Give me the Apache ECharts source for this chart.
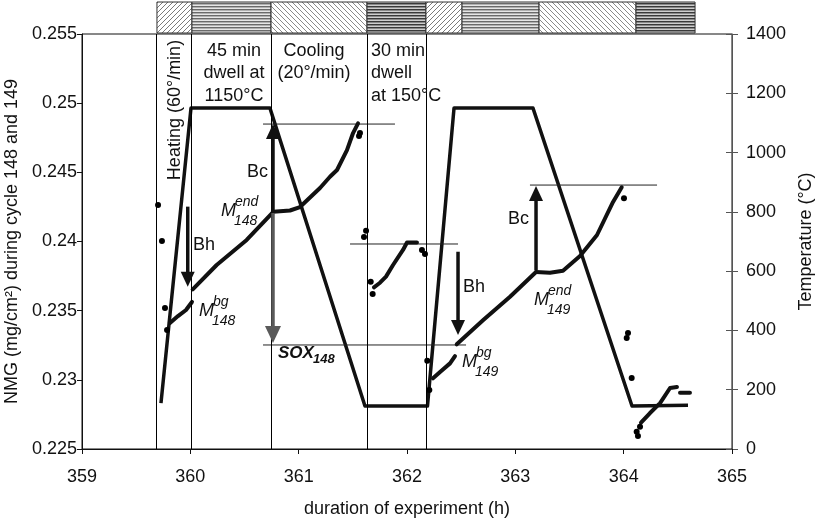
<!DOCTYPE html>
<html><head><meta charset="utf-8">
<script src="https://cdn.jsdelivr.net/npm/echarts@6/dist/echarts.min.js"></script>
<style>html,body{margin:0;padding:0;background:#fff}#c{width:817px;height:525px}</style>
</head><body><div id="c"></div>
<script>
// ---------- data (hours, NMG mg/cm², °C) ----------
const xMin = 359, xMax = 365, xStep = 1;
const nmgMin = 0.225, nmgMax = 0.255, nmgStep = 0.005;
const tMin = 0, tMax = 1400, tStep = 200;

// phase boundaries (h) and kinds for the top band
const phaseBounds = [359.692, 360.015, 360.745, 361.631, 362.175, 362.508, 363.219, 364.114, 364.659];
const phaseKinds = ['heat', 'dwellHot', 'cool', 'dwellCold', 'heat', 'dwellHot', 'cool', 'dwellCold'];
const phaseLines = [359.692, 360.015, 360.745, 361.631, 362.175];

// furnace temperature profile
const temperature = [
  [359.729, 155], [360.006, 1150], [360.735, 1150], [361.612, 145],
  [362.189, 145], [362.434, 1150], [363.163, 1150], [364.077, 145], [364.594, 148]
];

// dense mass-gain traces
const mass148Heat = [[359.812, 0.23411], [359.886, 0.23461], [359.960, 0.23505], [360.015, 0.23563]];
const mass148Dwell = [[360.022, 0.23654], [360.243, 0.23830], [360.520, 0.24011], [360.766, 0.24215]];
const mass148Cool = [[360.766, 0.24215], [360.920, 0.24224], [361.012, 0.24249], [361.197, 0.24387],
  [361.289, 0.24468], [361.354, 0.24517], [361.446, 0.24661], [361.502, 0.24784], [361.548, 0.24854]];
const mass148Hold = [[361.695, 0.23669], [361.751, 0.23702], [361.806, 0.23746], [361.871, 0.23830],
  [361.963, 0.23939], [362.000, 0.23993], [362.092, 0.23993]];
const mass149Heat = [[362.240, 0.23011], [362.305, 0.23057], [362.397, 0.23119], [362.443, 0.23172]];
const mass149Dwell = [[362.459, 0.23257], [362.704, 0.23432], [362.951, 0.23601], [363.191, 0.23779]];
const mass149Cool = [[363.191, 0.23779], [363.320, 0.23774], [363.440, 0.23789], [363.597, 0.23895],
  [363.754, 0.24047], [363.902, 0.24286], [363.982, 0.24392]];
const mass149Hold = [[364.160, 0.22690], [364.243, 0.22760], [364.336, 0.22832], [364.428, 0.22941], [364.492, 0.22948]];
const mass149Tail = [[364.520, 0.22907], [364.612, 0.22907]];

// isolated mass readings
const massDots = [
  [359.702, 0.24264], [359.738, 0.24004], [359.766, 0.23519], [359.785, 0.23360],
  [361.566, 0.24784], [361.557, 0.24763], [361.622, 0.24078], [361.603, 0.24033],
  [361.665, 0.23709], [361.683, 0.23620], [362.138, 0.23939], [362.166, 0.23910],
  [362.187, 0.23138], [362.206, 0.22926], [364.003, 0.24312], [364.040, 0.23339],
  [364.028, 0.23302], [364.074, 0.23013], [364.120, 0.22625], [364.132, 0.22594], [364.151, 0.22661]
];

// horizontal reference levels: [hStart, hEnd, nmg]
const refLevels = [
  [360.671, 361.889, 0.24849],
  [361.474, 362.471, 0.23982],
  [360.671, 362.545, 0.23252],
  [363.135, 364.308, 0.24408]
];

// arrows: [h, nmgFrom, nmgTo, kind]
const arrows = [
  [359.976, 0.24252, 0.23673, 0],
  [360.763, 0.24206, 0.24849, 0],
  [360.763, 0.24206, 0.23266, 1],
  [362.471, 0.23926, 0.23324, 0],
  [363.191, 0.23794, 0.24401, 0]
];

// ---------- styles ----------
const FONT = '"Liberation Sans", Arial, Helvetica, sans-serif';
const FS = 18;

function makePattern(kind) {
  const c = document.createElement('canvas');
  const ctx = c.getContext('2d');
  if (kind === 'heat' || kind === 'cool') {
    const s = 5; c.width = s; c.height = s;
    ctx.fillStyle = '#fff'; ctx.fillRect(0, 0, s, s);
    ctx.strokeStyle = kind === 'heat' ? '#7a7a7a' : '#8a8a8a';
    ctx.lineWidth = 1;
    ctx.beginPath();
    if (kind === 'heat') {
      ctx.moveTo(-1, s + 1); ctx.lineTo(s + 1, -1);
      ctx.moveTo(-2, 2); ctx.lineTo(2, -2);
      ctx.moveTo(s - 2, s + 2); ctx.lineTo(s + 2, s - 2);
    } else {
      ctx.moveTo(-1, -1); ctx.lineTo(s + 1, s + 1);
      ctx.moveTo(-2, s - 2); ctx.lineTo(2, s + 2);
      ctx.moveTo(s - 2, -2); ctx.lineTo(s + 2, 2);
    }
    ctx.stroke();
  } else {
    c.width = 4; c.height = 3;
    ctx.fillStyle = kind === 'dwellHot' ? '#e6e6e6' : '#cfcfcf'; ctx.fillRect(0, 0, 4, 3);
    ctx.fillStyle = kind === 'dwellHot' ? '#6a6a6a' : '#3a3a3a'; ctx.fillRect(0, 0, 4, 1);
    ctx.fillStyle = kind === 'dwellHot' ? '#b0b0b0' : '#8a8a8a'; ctx.fillRect(0, 1, 4, 1);
  }
  return { image: c, repeat: 'repeat' };
}
const patterns = {};
['heat', 'cool', 'dwellHot', 'dwellCold'].forEach(k => patterns[k] = makePattern(k));

const chart = echarts.init(document.getElementById('c'), null, { renderer: 'canvas' });

function traceSeries(data) {
  return {
    type: 'line', data: data, xAxisIndex: 0, yAxisIndex: 0, showSymbol: false, symbol: 'none',
    lineStyle: { color: '#111', width: 4, cap: 'round', join: 'round' }, silent: true, z: 4, animation: false
  };
}

const series = [];
// temperature
series.push({
  type: 'line', data: temperature, xAxisIndex: 0, yAxisIndex: 1, symbol: 'none',
  lineStyle: { color: '#111', width: 3.5, join: 'round' }, silent: true, z: 3, animation: false,
  markLine: {
    silent: true, symbol: 'none', animation: false, label: { show: false },
    lineStyle: { color: '#000', width: 1, type: 'solid' },
    data: phaseLines.map(v => ({ xAxis: v }))
  }
});
[mass148Heat, mass148Dwell, mass148Cool, mass148Hold, mass149Heat, mass149Dwell, mass149Cool, mass149Hold, mass149Tail]
  .forEach(d => series.push(traceSeries(d)));
series.push({
  type: 'scatter', data: massDots, xAxisIndex: 0, yAxisIndex: 0, symbol: 'circle', symbolSize: 6,
  itemStyle: { color: '#000', opacity: 1 }, silent: true, z: 4, animation: false
});
refLevels.forEach(r => series.push({
  type: 'line', data: [[r[0], r[2]], [r[1], r[2]]], xAxisIndex: 0, yAxisIndex: 0, symbol: 'none',
  lineStyle: { color: '#222', width: 1 }, silent: true, z: 3, animation: false
}));
// arrows
series.push({
  type: 'custom', xAxisIndex: 0, yAxisIndex: 0, clip: false, silent: true, z: 6, animation: false,
  data: arrows, encode: { x: 0, y: [1, 2] },
  renderItem(params, api) {
    const p0 = api.coord([api.value(0), api.value(1)]);
    const p1 = api.coord([api.value(0), api.value(2)]);
    const grey = api.value(3) === 1;
    const col = grey ? '#5a5a5a' : '#111';
    const hw = grey ? 16 : 14, hh = grey ? 17 : 15;
    const dir = p1[1] > p0[1] ? 1 : -1;
    const base = p1[1] - dir * hh;
    return {
      type: 'group', children: [
        { type: 'line', shape: { x1: p0[0], y1: p0[1], x2: p1[0], y2: base + dir * 1 }, style: { stroke: col, lineWidth: 3.5 } },
        { type: 'polygon', shape: { points: [[p1[0], p1[1]], [p1[0] - hw / 2, base], [p1[0] + hw / 2, base]] }, style: { fill: col } }
      ]
    };
  }
});
// top phase band
series.push({
  type: 'custom', xAxisIndex: 0, yAxisIndex: 0, clip: false, silent: true, z: 2, animation: false,
  data: phaseKinds.map((k, i) => [phaseBounds[i], phaseBounds[i + 1], i, 0.24]),
  encode: { x: [0, 1], y: 3 },
  renderItem(params, api) {
    const x1 = api.coord([api.value(0), nmgMax])[0];
    const x2 = api.coord([api.value(1), nmgMax])[0];
    const top = params.coordSys.y;
    return {
      type: 'rect', shape: { x: x1, y: top - 32, width: x2 - x1, height: 31 },
      style: { fill: patterns[phaseKinds[api.value(2)]], stroke: '#333', lineWidth: 1 }
    };
  }
});

// ---------- annotations ----------
function txt(x, y, text, o) {
  o = o || {};
  return {
    type: 'text', x: x, y: y, rotation: o.rot || 0, silent: true, z: 10,
    style: {
      text: text, fill: '#111', fontFamily: FONT, fontSize: o.fs || FS,
      fontStyle: o.it ? 'italic' : 'normal', fontWeight: o.bold ? 'bold' : 'normal',
      align: o.align || 'left', verticalAlign: 'middle'
    }
  };
}
function mLabel(x, y, sup, sub) {
  return [
    txt(x, y, 'M', { it: true }),
    txt(x + 14, y - 9, sup, { it: true, fs: 14 }),
    txt(x + 13, y + 10, sub, { it: true, fs: 14 })
  ];
}
const graphic = [
  txt(175, 110, 'Heating (60°/min)', { rot: Math.PI / 2, align: 'center' }),
  txt(234, 51, '45 min', { align: 'center' }),
  txt(234, 73, 'dwell at', { align: 'center' }),
  txt(234, 96, '1150°C', { align: 'center' }),
  txt(314, 51, 'Cooling', { align: 'center' }),
  txt(314, 73, '(20°/min)', { align: 'center' }),
  txt(371, 51, '30 min'),
  txt(371, 73, 'dwell'),
  txt(371, 96, 'at 150°C'),
  txt(247, 172, 'Bc'),
  txt(193, 245, 'Bh'),
  txt(463, 287, 'Bh'),
  txt(508, 219, 'Bc'),
  ...mLabel(221, 211, 'end', '148'),
  ...mLabel(199, 311, 'bg', '148'),
  ...mLabel(462, 362, 'bg', '149'),
  ...mLabel(534, 300, 'end', '149'),
  txt(278, 353, 'SOX', { it: true, bold: true, fs: 17 }),
  txt(313, 359, '148', { it: true, bold: true, fs: 13 })
];

const axisText = { color: '#111', fontFamily: FONT, fontSize: FS };
const option = {
  animation: false,
  backgroundColor: '#fff',
  grid: { left: 82, right: 85, top: 34, bottom: 76, show: true, borderColor: '#111', borderWidth: 1,
    containLabel: false, outerBoundsMode: 'none' },
  xAxis: [{
    type: 'value', min: xMin, max: xMax, interval: xStep,
    name: 'duration of experiment (h)', nameLocation: 'middle', nameGap: 51, nameTextStyle: axisText,
    axisLine: { lineStyle: { color: '#111', width: 1 } },
    axisTick: { show: true, length: 5, lineStyle: { color: '#111' } },
    axisLabel: Object.assign({ margin: 19 }, axisText),
    splitLine: { show: false }
  }],
  yAxis: [{
    type: 'value', position: 'left', min: nmgMin, max: nmgMax, interval: nmgStep,
    name: 'NMG (mg/cm²) during cycle 148 and 149', nameLocation: 'middle', nameGap: 52, nameRotate: 90,
    nameTextStyle: axisText,
    axisLine: { show: true, lineStyle: { color: '#111', width: 1 } },
    axisTick: { show: true, length: 5, lineStyle: { color: '#111' } },
    axisLabel: Object.assign({ margin: 5, formatter: v => String(Number(v.toFixed(3))) }, axisText),
    splitLine: { show: false }
  }, {
    type: 'value', position: 'right', min: tMin, max: tMax, interval: tStep,
    name: 'Temperature (°C)', nameLocation: 'middle', nameGap: 64, nameRotate: 90,
    nameTextStyle: axisText,
    axisLine: { show: true, lineStyle: { color: '#555', width: 1 } },
    axisTick: { show: true, length: 6, lineStyle: { color: '#555' } },
    axisLabel: Object.assign({ margin: 14, formatter: v => String(v) }, axisText),
    splitLine: { show: false }
  }, {
    type: 'value', position: 'right', min: tMin, max: tMax, interval: tStep,
    axisLine: { show: false },
    axisTick: { show: true, inside: true, length: 6, lineStyle: { color: '#555' } },
    axisLabel: { show: false }, splitLine: { show: false }
  }],
  series: series,
  graphic: graphic
};
chart.setOption(option);
</script>
</body></html>
